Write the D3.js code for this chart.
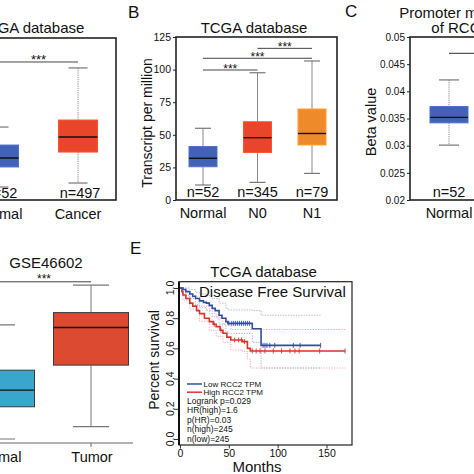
<!DOCTYPE html>
<html><head><meta charset="utf-8">
<script src="https://cdn.jsdelivr.net/npm/d3@7"></script>
<style>
body{margin:0;background:#fff}
svg{display:block;background:#fff}
text{font-family:Arial,"Liberation Sans",Helvetica,sans-serif;fill:#111}
</style>
</head><body>
<svg id="chart" width="474" height="474"></svg>
<script>
// ================= DATA =================
// Panel A (TCGA, Normal vs Cancer, TPM)
const aGroups = ["Normal", "Cancer"];
const aN = ["n=52", "n=497"];
const aLo = [10, 13.1];
const aQ1 = [25.5, 37];
const aMed = [32.4, 48.6];
const aQ3 = [42.4, 61.7];
const aHi = [56.3, 101.9];
const aColors = ["#4262b5", "#e8452a"];
const aSig = 106.5;

// Panel B (TCGA, nodal status)
const bGroups = ["Normal", "N0", "N1"];
const bN = ["n=52", "n=345", "n=79"];
const bLo = [11.5, 13.5, 20.4];
const bQ1 = [25.5, 36.5, 42.2];
const bMed = [32, 47.8, 51];
const bQ3 = [41, 60, 69.8];
const bHi = [55, 97.6, 106.6];
const bColors = ["#4262b5", "#e8452a", "#ef8a2b"];
const bTicks = [0, 25, 50, 75, 100, 125];
const bSigPairs = [["Normal", "N0"], ["Normal", "N1"], ["N0", "N1"]];
const bSigLevels = [99.7, 108.7, 116.3];

// Panel C (promoter methylation, beta value)
const cGroups = ["Normal", "Tumor"];
const cN = ["n=52"];
const cLo = [0.0301], cQ1 = [0.0342], cMed = [0.0352], cQ3 = [0.0372], cHi = [0.0421];
const cColors = ["#4262b5"];
const cTicks = [0.02, 0.025, 0.03, 0.035, 0.04, 0.045, 0.05];
const cTickLabels = ["0.02", "0.025", "0.03", "0.035", "0.04", "0.045", "0.05"];
const cSig = 0.047;

// Panel D (GSE46602)
const dGroups = ["Normal", "Tumor"];
const dLo = [5.61, 5.95], dQ1 = [6.50, 7.65], dMed = [6.96, 8.69], dQ3 = [7.51, 9.10], dHi = [8.76, 9.86];
const dColors = ["#3aa6cc", "#db4a31"];
const dSig = 9.95;

// Panel E (Kaplan-Meier, disease free survival)
const lowCurve = [[0,1],[3,0.99],[6,0.976],[10,0.96],[13,0.945],[16,0.93],[20,0.915],[24,0.905],[27,0.9],[30,0.885],[33,0.865],[36,0.85],[40,0.82],[43,0.8],[47,0.777],[49,0.766],[74,0.73],[83,0.62],[144,0.62]];
const highCurve = [[0,1],[2,0.975],[3,0.954],[6,0.93],[10,0.9],[13,0.88],[17,0.85],[20,0.83],[25,0.8],[30,0.777],[34,0.76],[37,0.744],[41,0.72],[44,0.7],[48,0.675],[52,0.656],[64,0.645],[69,0.6],[72,0.583],[169,0.583]];
const lowUpper = [[0,1],[6,1],[10,0.99],[16,0.97],[20,0.96],[27,0.95],[33,0.93],[40,0.9],[47,0.865],[49,0.855],[74,0.85],[83,0.82],[144,0.82]];
const lowLower = [[0,1],[6,0.95],[10,0.93],[16,0.89],[20,0.87],[27,0.85],[33,0.81],[40,0.76],[47,0.71],[49,0.7],[74,0.64],[83,0.47],[144,0.47]];
const highUpper = [[0,1],[3,0.98],[10,0.94],[20,0.88],[30,0.83],[37,0.8],[44,0.76],[52,0.725],[169,0.72]];
const highLower = [[0,1],[3,0.92],[10,0.86],[20,0.78],[30,0.72],[37,0.68],[44,0.64],[52,0.59],[64,0.58],[69,0.53],[72,0.47],[169,0.47]];
const lowCensor = [50,53,55,57,59,61,63,65,67,69,71,85,87,89,92,97,116,123,144];
const highCensor = [35,42,56,60,63,66,74,78,82,87,95.5,104,112.6,117.7,122,143,169];
const eYTicks = [0, 0.2, 0.4, 0.6, 0.8, 1.0];
const eXTicks = [0, 50, 100, 150];
const eLegend = ["Low RCC2 TPM", "High RCC2 TPM"];
const eLegendColors = ["#2f4fa3", "#e0302a"];
const eStats = ["Logrank p=0.029", "HR(high)=1.6", "p(HR)=0.03", "n(high)=245", "n(low)=245"];

// ================= DRAW =================
const svg = d3.select("#chart");
const FONT = 'Arial,"Liberation Sans",Helvetica,sans-serif';

function drawBoxes(g, x, y, groups, lo, q1, med, q3, hi, colors, bw, cw, opt) {
  groups.forEach((grp, i) => {
    if (lo[i] === undefined) return;
    const cx = x(grp);
    g.append("line").attr("x1", cx).attr("x2", cx).attr("y1", y(hi[i])).attr("y2", y(q3[i]))
      .attr("stroke", opt.wColor).attr("stroke-width", 1).attr("stroke-dasharray", opt.dash || null);
    g.append("line").attr("x1", cx).attr("x2", cx).attr("y1", y(q1[i])).attr("y2", y(lo[i]))
      .attr("stroke", opt.wColor).attr("stroke-width", 1).attr("stroke-dasharray", opt.dash || null);
    [hi[i], lo[i]].forEach(v => g.append("line").attr("x1", cx - cw / 2).attr("x2", cx + cw / 2)
      .attr("y1", y(v)).attr("y2", y(v)).attr("stroke", opt.capColor).attr("stroke-width", 1.2));
    g.append("rect").attr("x", cx - bw / 2).attr("width", bw)
      .attr("y", y(q3[i])).attr("height", y(q1[i]) - y(q3[i]))
      .attr("fill", colors[i]).attr("stroke", opt.boxStroke || d3.color(colors[i]).brighter(0.4)).attr("stroke-width", 1);
    g.append("line").attr("x1", cx - bw / 2).attr("x2", cx + bw / 2)
      .attr("y1", y(med[i])).attr("y2", y(med[i])).attr("stroke", "#111").attr("stroke-width", 1.4);
  });
}

function sigBar(g, x1, x2, yy, fs, off) {
  g.append("line").attr("x1", x1).attr("x2", x2).attr("y1", yy).attr("y2", yy)
    .attr("stroke", "#444").attr("stroke-width", 1);
  g.append("text").attr("x", (x1 + x2) / 2).attr("y", yy + off).attr("text-anchor", "middle")
    .style("font-size", fs + "px").text("***");
}

// ---------- Panel A ----------
{
  const g = svg.append("g");
  const x = d3.scalePoint().domain(aGroups).range([-1, 78]);
  const y = d3.scaleLinear().domain([0, 125]).range([200, 38]);
  g.append("text").attr("x", 31).attr("y", 33).attr("text-anchor", "middle").style("font-size", "15px").text("TCGA database");
  sigBar(g, x("Normal"), x("Cancer"), y(aSig), 13, 1.6);
  drawBoxes(g, x, y, aGroups, aLo, aQ1, aMed, aQ3, aHi, aColors, 39, 19, { wColor: "#888", capColor: "#777", dash: "1.2,1" });
  aGroups.forEach((grp, i) => {
    g.append("text").attr("x", x(grp) + 2).attr("y", 198).attr("text-anchor", "middle").style("font-size", "14.5px").text(aN[i]);
    g.append("text").attr("x", x(grp)).attr("y", 219).attr("text-anchor", "middle").style("font-size", "14.5px").text(grp);
  });
  g.append("rect").attr("x", -80).attr("y", y(125)).attr("width", 196).attr("height", y(0) - y(125))
    .attr("fill", "none").attr("stroke", "#222").attr("stroke-width", 1.6);
}

// ---------- Panel B ----------
{
  const g = svg.append("g");
  g.append("text").attr("x", 128).attr("y", 18).style("font-size", "17px").text("B");
  const x = d3.scalePoint().domain(bGroups).range([203, 312]);
  const y = d3.scaleLinear().domain([0, 125]).range([200, 37]);
  g.append("text").attr("x", 254).attr("y", 33).attr("text-anchor", "middle").style("font-size", "15px").text("TCGA database");
  const ax = g.append("g").attr("transform", "translate(176,0)")
    .call(d3.axisLeft(y).tickValues(bTicks).tickSize(3).tickPadding(2));
  ax.select(".domain").remove();
  ax.selectAll("text").style("font-size", "10.5px").style("font-family", FONT).attr("fill", "#222");
  ax.selectAll("line").attr("stroke", "#222");
  bSigPairs.forEach((p, i) => sigBar(g, x(p[0]), x(p[1]), y(bSigLevels[i]), 12, 2.6));
  drawBoxes(g, x, y, bGroups, bLo, bQ1, bMed, bQ3, bHi, bColors, 28, 16, { wColor: "#8a8a8a", capColor: "#777" });
  bGroups.forEach((grp, i) => {
    g.append("text").attr("x", x(grp)).attr("y", 197).attr("text-anchor", "middle").style("font-size", "14.5px").text(bN[i]);
    g.append("text").attr("x", x(grp)).attr("y", 218).attr("text-anchor", "middle").style("font-size", "14.5px").text(grp);
  });
  g.append("rect").attr("x", 176).attr("y", y(125)).attr("width", 161).attr("height", y(0) - y(125))
    .attr("fill", "none").attr("stroke", "#222").attr("stroke-width", 1.6);
  g.append("text").attr("transform", "translate(147,123) rotate(-90)").attr("dy", "0.35em")
    .attr("text-anchor", "middle").style("font-size", "14px").text("Transcript per million");
}

// ---------- Panel C ----------
{
  const g = svg.append("g");
  g.append("text").attr("x", 345).attr("y", 17).style("font-size", "17px").text("C");
  const x = d3.scalePoint().domain(cGroups).range([449, 545]);
  const y = d3.scaleLinear().domain([0.02, 0.05]).range([200, 37]);
  g.append("text").attr("x", 488).attr("y", 17.5).attr("text-anchor", "middle").style("font-size", "15px").text("Promoter methylation level");
  g.append("text").attr("x", 488).attr("y", 33).attr("text-anchor", "middle").style("font-size", "15px").text("of RCC2 in KIRC");
  const ax = g.append("g").attr("transform", "translate(410,0)")
    .call(d3.axisLeft(y).tickValues(cTicks).tickFormat((d, i) => cTickLabels[i]).tickSize(3).tickPadding(2));
  ax.select(".domain").remove();
  ax.selectAll("text").style("font-size", "10px").style("font-family", FONT).attr("fill", "#222");
  ax.selectAll("line").attr("stroke", "#222");
  g.append("line").attr("x1", x("Normal")).attr("x2", x("Tumor")).attr("y1", y(cSig)).attr("y2", y(cSig))
    .attr("stroke", "#555").attr("stroke-width", 1.2);
  drawBoxes(g, x, y, cGroups, cLo, cQ1, cMed, cQ3, cHi, cColors, 38, 20, { wColor: "#888", capColor: "#777", dash: "1.2,1" });
  g.append("text").attr("x", x("Normal")).attr("y", 197).attr("text-anchor", "middle").style("font-size", "14.5px").text(cN[0]);
  g.append("text").attr("x", x("Normal")).attr("y", 218).attr("text-anchor", "middle").style("font-size", "14.5px").text("Normal");
  g.append("rect").attr("x", 410).attr("y", y(0.05)).attr("width", 200).attr("height", y(0.02) - y(0.05))
    .attr("fill", "none").attr("stroke", "#222").attr("stroke-width", 1.6);
  g.append("text").attr("transform", "translate(371,122) rotate(-90)").attr("dy", "0.35em")
    .attr("text-anchor", "middle").style("font-size", "14.5px").text("Beta value");
}

// ---------- Panel D ----------
{
  const g = svg.append("g");
  const x = d3.scalePoint().domain(dGroups).range([-3, 91]);
  const y = d3.scaleLinear().domain([5.5, 10]).range([443, 280]);
  g.append("text").attr("x", 46).attr("y", 268).attr("text-anchor", "middle").style("font-size", "15px").text("GSE46602");
  sigBar(g, x("Normal"), x("Tumor"), y(dSig), 12, 1.5);
  drawBoxes(g, x, y, dGroups, dLo, dQ1, dMed, dQ3, dHi, dColors, 75, 36, { wColor: "#777", capColor: "#777", boxStroke: "#3a3a3a" });
  g.append("line").attr("x1", -10).attr("x2", 133).attr("y1", 443).attr("y2", 443).attr("stroke", "#666").attr("stroke-width", 1);
  dGroups.forEach(grp => {
    g.append("line").attr("x1", x(grp)).attr("x2", x(grp)).attr("y1", 443).attr("y2", 447).attr("stroke", "#666");
    g.append("text").attr("x", x(grp) + 1).attr("y", 462).attr("text-anchor", "middle").style("font-size", "14.5px").text(grp);
  });
}

// ---------- Panel E ----------
{
  const g = svg.append("g");
  g.append("text").attr("x", 130).attr("y", 254).style("font-size", "17px").text("E");
  const x = d3.scaleLinear().domain([0, 150]).range([180, 326.5]);
  const y = d3.scaleLinear().domain([0, 1]).range([439, 288]);
  const L = 179, R = 352, T = 281.7, B = 445;
  g.append("text").attr("x", 263.5).attr("y", 277).attr("text-anchor", "middle").style("font-size", "15px").text("TCGA database");

  const line = d3.line().x(d => x(d[0])).y(d => y(d[1])).curve(d3.curveStepAfter);
  const ci = [[lowUpper, "#a9b3e3"], [lowLower, "#a9b3e3"], [highUpper, "#f2a9b5"], [highLower, "#f2a9b5"]];
  ci.forEach(([d, c]) => g.append("path").attr("d", line(d)).attr("fill", "none")
    .attr("stroke", c).attr("stroke-width", 1).attr("stroke-dasharray", "1.3,1.3"));
  g.append("path").attr("d", line(highCurve)).attr("fill", "none").attr("stroke", eLegendColors[1]).attr("stroke-width", 1.6);
  g.append("path").attr("d", line(lowCurve)).attr("fill", "none").attr("stroke", eLegendColors[0]).attr("stroke-width", 1.6);
  const survAt = (curve, t) => curve[Math.max(0, d3.bisector(d => d[0]).right(curve, t) - 1)][1];
  [[lowCurve, lowCensor, eLegendColors[0]], [highCurve, highCensor, eLegendColors[1]]].forEach(([cv, cs, col]) => {
    cs.forEach(t => {
      const yy = y(survAt(cv, t));
      g.append("line").attr("x1", x(t)).attr("x2", x(t)).attr("y1", yy - 2.5).attr("y2", yy + 2.5)
        .attr("stroke", col).attr("stroke-width", 0.9);
    });
  });

  g.append("text").attr("x", 199).attr("y", 297).style("font-size", "15px").text("Disease Free Survival");

  const ay = g.append("g").attr("transform", `translate(${L},0)`)
    .call(d3.axisLeft(y).tickValues(eYTicks).tickSize(5).tickFormat(""));
  ay.select(".domain").remove();
  ay.selectAll("line").attr("stroke", "#333");
  eYTicks.forEach(v => g.append("text").attr("transform", `translate(170,${y(v)}) rotate(-90)`)
    .attr("dy", "0.35em").attr("text-anchor", "middle").style("font-size", "10.5px").text(d3.format(".1f")(v)));
  const axx = g.append("g").attr("transform", `translate(0,${B})`)
    .call(d3.axisBottom(x).tickValues(eXTicks).tickSize(3.5).tickPadding(1.5));
  axx.select(".domain").remove();
  axx.selectAll("text").style("font-size", "10.5px").style("font-family", FONT).attr("fill", "#222");
  axx.selectAll("line").attr("stroke", "#333");
  g.append("rect").attr("x", L).attr("y", T).attr("width", R - L).attr("height", B - T)
    .attr("fill", "none").attr("stroke", "#222").attr("stroke-width", 1.2);
  g.append("line").attr("x1", L).attr("x2", L).attr("y1", T).attr("y2", B).attr("stroke", "#111").attr("stroke-width", 2);

  eLegend.forEach((t, i) => {
    const yy = 384 + i * 8.2;
    g.append("line").attr("x1", 187).attr("x2", 202).attr("y1", yy).attr("y2", yy).attr("stroke", eLegendColors[i]).attr("stroke-width", 1.5);
    g.append("text").attr("x", 203.5).attr("y", yy + 2.8).style("font-size", "8px").text(t);
  });
  eStats.forEach((t, i) => g.append("text").attr("x", 187).attr("y", 403.5 + i * 9.6).style("font-size", "8.5px").text(t));

  g.append("text").attr("transform", "translate(154,360) rotate(-90)").attr("dy", "0.35em")
    .attr("text-anchor", "middle").style("font-size", "14px").text("Percent survival");
  g.append("text").attr("x", 257).attr("y", 472).attr("text-anchor", "middle").style("font-size", "15px").text("Months");
}
</script>
</body></html>
